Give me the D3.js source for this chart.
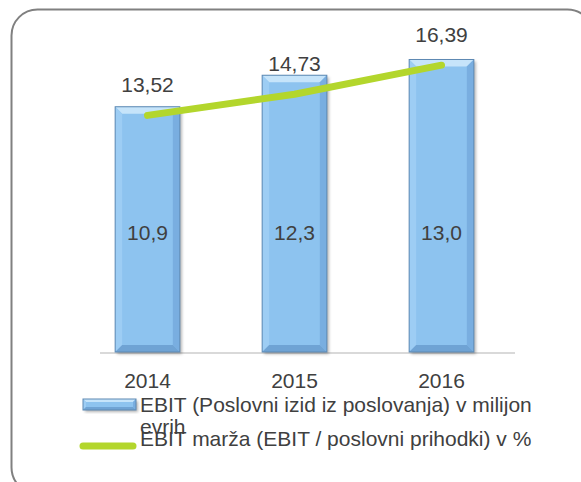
<!DOCTYPE html>
<html>
<head>
<meta charset="utf-8">
<script src="https://d3js.org/d3.v7.min.js"></script>
<style>
  body { margin: 0; background: #fff; }
  svg text { font-family: "Liberation Sans", Arial, sans-serif; fill: #404040; }
</style>
</head>
<body>
<div id="chart"></div>
<script>
// data
var years = ["2014", "2015", "2016"];
var ebit = [10.9, 12.3, 13.0];          // million EUR, bars
var ebitMargin = [13.52, 14.73, 16.39]; // %, line
var legendLabels = ["EBIT (Poslovni izid iz poslovanja) v milijon evrih",
                    "EBIT marža (EBIT / poslovni prihodki) v %"];

var fmt = function(v, n) { return v.toFixed(n).replace(".", ","); };

var W = 581, H = 482;
var svg = d3.select("#chart").append("svg")
    .attr("width", W).attr("height", H);

var defs = svg.append("defs");
var f = defs.append("filter").attr("id", "shadow")
    .attr("x", "-20%").attr("y", "-20%").attr("width", "150%").attr("height", "150%");
f.append("feDropShadow").attr("dx", 2).attr("dy", 2).attr("stdDeviation", 1.5)
    .attr("flood-color", "#000").attr("flood-opacity", 0.3);

// rounded frame (runs off the right/bottom edge)
svg.append("rect")
    .attr("x", 11.5).attr("y", 9.5)
    .attr("width", 582).attr("height", 484)
    .attr("rx", 26)
    .attr("fill", "none").attr("stroke", "#808080").attr("stroke-width", 2);

var base = 352, plotTop = 37;
var x = d3.scaleBand().domain(years).range([74, 515]).paddingInner(0.56).paddingOuter(0.28);
var yBar = d3.scaleLinear().domain([0, 14]).range([base, plotTop]);
var yLine = d3.scaleLinear().domain([0, 18]).range([base, plotTop]);

// beveled bar helper
function bevelBar(g, x0, y0, w, h, b) {
  var x1 = x0 + w, y1 = y0 + h;
  g.append("rect").attr("x", x0).attr("y", y0).attr("width", w).attr("height", h)
    .attr("fill", "#8dc3ef").attr("filter", "url(#shadow)");
  var faces = [
    {pts: [[x0, y0], [x1, y0], [x1 - b, y0 + b], [x0 + b, y0 + b]], c: "#c6e4fa"},
    {pts: [[x0, y0], [x0 + b, y0 + b], [x0 + b, y1 - b], [x0, y1]], c: "#9dcdf4"},
    {pts: [[x1, y0], [x1, y1], [x1 - b, y1 - b], [x1 - b, y0 + b]], c: "#79aee0"},
    {pts: [[x0, y1], [x0 + b, y1 - b], [x1 - b, y1 - b], [x1, y1]], c: "#6fa3d4"}
  ];
  faces.forEach(function(fc) {
    g.append("polygon").attr("points", fc.pts.map(function(p) { return p.join(","); }).join(" "))
      .attr("fill", fc.c);
  });
  g.append("rect").attr("x", x0).attr("y", y0).attr("width", w).attr("height", h)
    .attr("fill", "none").attr("stroke", "#5e89b3").attr("stroke-width", 1);
}

// axis line
svg.append("line")
    .attr("x1", 100).attr("x2", 515).attr("y1", base + 1).attr("y2", base + 1)
    .attr("stroke", "#d9d9d9").attr("stroke-width", 2);

// bars
ebit.forEach(function(v, i) {
  var g = svg.append("g");
  bevelBar(g, x(years[i]), yBar(v), x.bandwidth(), yBar(0) - yBar(v), 7);
});

// bar labels
svg.selectAll(".blabel").data(ebit).enter().append("text")
    .attr("class", "blabel")
    .attr("x", function(d, i) { return x(years[i]) + x.bandwidth() / 2; })
    .attr("y", yBar(5))
    .attr("text-anchor", "middle")
    .attr("font-size", 21)
    .text(function(d) { return fmt(d, 1); });

// margin line
var line = d3.line()
    .x(function(d, i) { return x(years[i]) + x.bandwidth() / 2; })
    .y(function(d) { return yLine(d); });
svg.append("path").datum(ebitMargin)
    .attr("d", line)
    .attr("fill", "none").attr("stroke", "#b3d62c")
    .attr("stroke-width", 7).attr("stroke-linecap", "round");

svg.selectAll(".llabel").data(ebitMargin).enter().append("text")
    .attr("class", "llabel")
    .attr("x", function(d, i) { return x(years[i]) + x.bandwidth() / 2; })
    .attr("y", function(d) { return yLine(d) - 23; })
    .attr("text-anchor", "middle")
    .attr("font-size", 21)
    .text(function(d) { return fmt(d, 2); });

// year labels
svg.selectAll(".xlabel").data(years).enter().append("text")
    .attr("class", "xlabel")
    .attr("x", function(d) { return x(d) + x.bandwidth() / 2; })
    .attr("y", 388)
    .attr("text-anchor", "middle")
    .attr("font-size", 21)
    .text(function(d) { return d; });

// legend
var lg = svg.append("g");
bevelBar(lg, 83, 399, 53, 11, 3);
var words = legendLabels[0].split(" ");
lg.append("text").attr("x", 140).attr("y", 412).attr("font-size", 21)
    .text(words.slice(0, -1).join(" "));
lg.append("text").attr("x", 140).attr("y", 434).attr("font-size", 21)
    .text(words[words.length - 1]);
lg.append("line").attr("x1", 83).attr("x2", 133).attr("y1", 446).attr("y2", 446)
    .attr("stroke", "#b3d62c").attr("stroke-width", 7).attr("stroke-linecap", "round");
lg.append("text").attr("x", 140).attr("y", 446).attr("font-size", 21)
    .text(legendLabels[1]);
</script>
</body>
</html>
